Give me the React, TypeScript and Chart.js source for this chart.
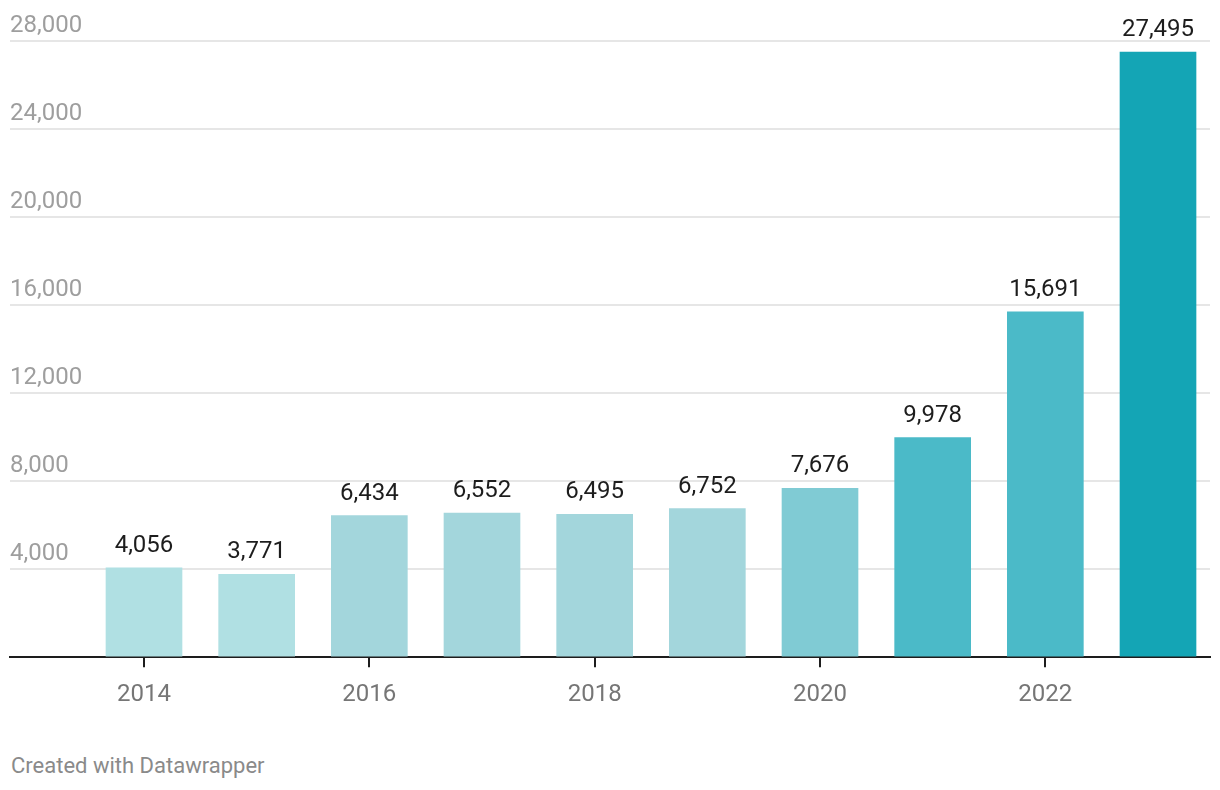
import React, { useEffect, useRef } from 'react';
import { Chart, registerables } from 'chart.js';

Chart.register(...registerables);

const years = [2014, 2015, 2016, 2017, 2018, 2019, 2020, 2021, 2022, 2023];
const values = [4056, 3771, 6434, 6552, 6495, 6752, 7676, 9978, 15691, 27495];
const xTickYears = [2014, 2016, 2018, 2020, 2022];
const yTickValues = [0, 4000, 8000, 12000, 16000, 20000, 24000, 28000];
const barColors = [
  '#b0e0e3', '#b0e0e3', '#a3d6dc', '#a3d6dc', '#a3d6dc',
  '#a3d6dc', '#80cbd4', '#4bbac8', '#4bbac8', '#14a5b5',
];
const footerText = 'Created with Datawrapper';

const fmt = (v: number) => v.toLocaleString('en-US');

const valueLabels = {
  id: 'valueLabels',
  afterDatasetsDraw(chart: any) {
    const ctx = chart.ctx;
    const meta = chart.getDatasetMeta(0);
    ctx.save();
    ctx.font = '24px Roboto';
    ctx.fillStyle = '#1d1d1d';
    ctx.textAlign = 'center';
    ctx.textBaseline = 'alphabetic';
    meta.data.forEach((el: any, i: number) => {
      ctx.fillText(fmt(values[i]), el.x, el.y - 16);
    });
    ctx.restore();
  },
};

export default function App() {
  const ref = useRef<HTMLCanvasElement | null>(null);

  useEffect(() => {
    if (!ref.current) return;
    const chart = new Chart(ref.current, {
      type: 'bar',
      data: {
        datasets: [
          {
            data: years.map((y, i) => ({ x: y, y: values[i] })),
            backgroundColor: barColors,
            barThickness: 76,
            borderWidth: 0,
          },
        ],
      },
      options: {
        responsive: false,
        animation: false,
        events: [],
        layout: { padding: { left: 10, right: 10, top: 41, bottom: 1 } },
        plugins: {
          legend: { display: false },
          tooltip: { enabled: false },
        },
        scales: {
          x: {
            type: 'linear',
            offset: false,
            min: 2012.8107,
            max: 2023.4615,
            afterBuildTicks: (scale: any) => {
              scale.ticks = xTickYears.map((v) => ({ value: v }));
            },
            ticks: {
              callback: (v: any) => String(v),
              color: '#767676',
              font: { family: 'Roboto', size: 24 },
              padding: 13,
              maxRotation: 0,
              autoSkip: false,
            },
            grid: {
              display: true,
              offset: false,
              drawOnChartArea: false,
              drawTicks: true,
              tickLength: 10,
              color: '#1d1d1d',
              lineWidth: 2,
            },
            border: { display: true, color: '#1d1d1d', width: 2 },
          },
          y: {
            type: 'linear',
            min: 0,
            max: 28000,
            afterBuildTicks: (scale: any) => {
              scale.ticks = yTickValues.map((v) => ({ value: v }));
            },
            ticks: {
              mirror: true,
              padding: 0,
              labelOffset: -15,
              color: '#9e9e9e',
              font: { family: 'Roboto', size: 24 },
              callback: (v: any) => (v === 0 ? '' : fmt(Number(v))),
            },
            grid: {
              drawTicks: false,
              color: '#e6e6e6',
              lineWidth: 2,
            },
            border: { display: false },
          },
        },
      },
      plugins: [valueLabels],
    });
    return () => chart.destroy();
  }, []);

  return (
    <div
      style={{
        position: 'absolute',
        left: 0,
        top: 0,
        width: 1220,
        height: 790,
        background: '#ffffff',
      }}
    >
      <canvas ref={ref} width={1220} height={723} style={{ display: 'block' }} />
      <div
        style={{
          position: 'absolute',
          left: 11,
          top: 755,
          fontFamily: 'Roboto',
          fontSize: 22,
          lineHeight: '22px',
          color: '#8a8a8a',
          whiteSpace: 'nowrap',
        }}
      >
        {footerText}
      </div>
    </div>
  );
}
